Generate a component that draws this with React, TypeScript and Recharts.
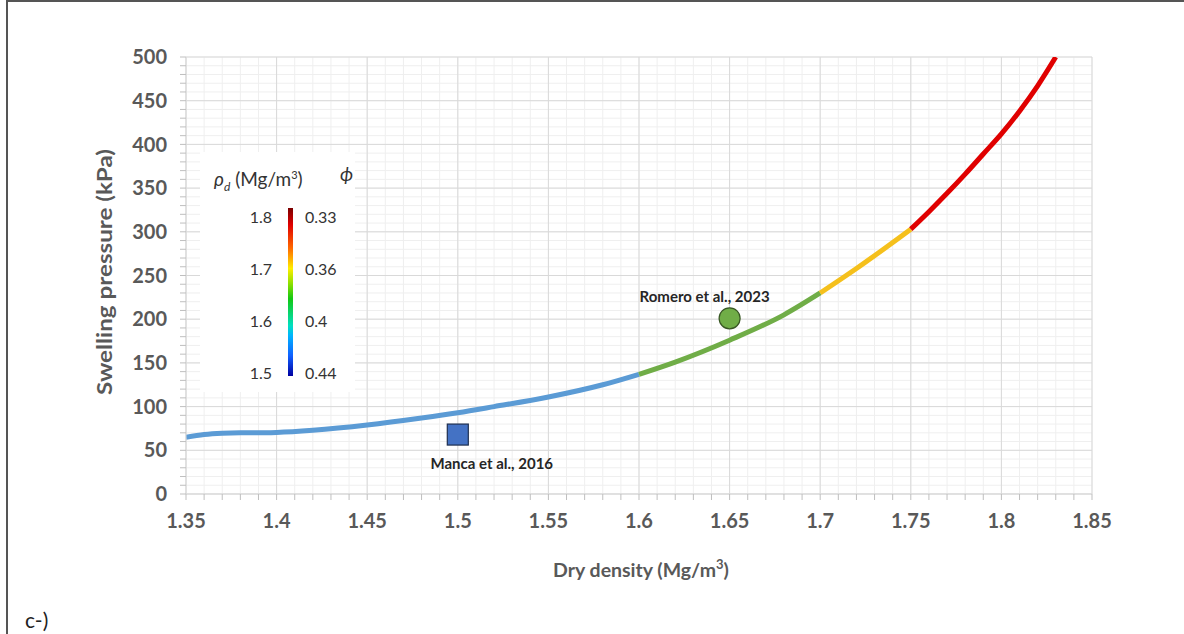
import {
  ComposedChart,
  Line,
  Scatter,
  XAxis,
  YAxis,
  CartesianGrid,
} from "recharts";

// curve segments, dry density (Mg/m3) vs swelling pressure (kPa)
const blueSeg = [
  { d: 1.35, p: 65 },
  { d: 1.36, p: 68 },
  { d: 1.37, p: 69.5 },
  { d: 1.38, p: 70 },
  { d: 1.39, p: 70 },
  { d: 1.4, p: 70.5 },
  { d: 1.42, p: 73 },
  { d: 1.45, p: 79 },
  { d: 1.48, p: 87 },
  { d: 1.5, p: 93 },
  { d: 1.52, p: 100 },
  { d: 1.55, p: 111 },
  { d: 1.58, p: 125 },
  { d: 1.6, p: 137 },
];
const greenSeg = [
  { d: 1.6, p: 137 },
  { d: 1.62, p: 151 },
  { d: 1.65, p: 176 },
  { d: 1.68, p: 205 },
  { d: 1.7, p: 230 },
];
const yellowSeg = [
  { d: 1.7, p: 230 },
  { d: 1.72, p: 258 },
  { d: 1.75, p: 303 },
];
const redSeg = [
  { d: 1.75, p: 303 },
  { d: 1.76, p: 323 },
  { d: 1.77, p: 344 },
  { d: 1.78, p: 366 },
  { d: 1.79, p: 389 },
  { d: 1.8, p: 412 },
  { d: 1.81, p: 438 },
  { d: 1.82, p: 467 },
  { d: 1.83, p: 500 },
];

const mancaPoint = [{ d: 1.5, p: 68, label: "Manca et al., 2016" }];
const romeroPoint = [{ d: 1.65, p: 201, label: "Romero et al., 2023" }];

const xMajor = [1.35, 1.4, 1.45, 1.5, 1.55, 1.6, 1.65, 1.7, 1.75, 1.8, 1.85];
const yMajor = [0, 50, 100, 150, 200, 250, 300, 350, 400, 450, 500];
const xMinor = Array.from({ length: 51 }, (_, i) => Math.round(135 + i) / 100);
const yMinor = Array.from({ length: 51 }, (_, i) => i * 10);

const densityLabels = ["1.8", "1.7", "1.6", "1.5"];
const porosityLabels = ["0.33", "0.36", "0.4", "0.44"];

const GREY = "#595959";
const FONT = "Lato, 'Open Sans', sans-serif";

const scaleFn = (axis: any) => {
  const s = axis?.scale;
  if (typeof s === "function") return s;
  if (s && typeof s.map === "function") return (v: number) => s.map(v);
  return null;
};

const xGen = (vals: number[]) => ({ xAxis }: any) => {
  const f = scaleFn(xAxis);
  return f ? vals.map((v) => f(v)) : [];
};
const yGen = (vals: number[]) => ({ yAxis }: any) => {
  const f = scaleFn(yAxis);
  return f ? vals.map((v) => f(v)) : [];
};

const isMajorX = (v: number) => Math.round(v * 100) % 5 === 0;

const SquareMark = (props: any) => {
  const { cx, cy, payload } = props;
  return (
    <g>
      <rect x={cx - 10.5} y={cy - 10.5} width={21} height={21} fill="#4472C4" stroke="#1F2F4F" strokeWidth={1.2} />
      <text x={cx + 34} y={cy + 34} textAnchor="middle" fontSize={15} fontWeight={700} fill="#262626" fontFamily={FONT}>
        {payload.label}
      </text>
    </g>
  );
};

const CircleMark = (props: any) => {
  const { cx, cy, payload } = props;
  return (
    <g>
      <circle cx={cx} cy={cy} r={10.5} fill="#70AD47" stroke="#385723" strokeWidth={1.2} />
      <text x={cx - 25} y={cy - 16} textAnchor="middle" fontSize={15} fontWeight={700} fill="#262626" fontFamily={FONT}>
        {payload.label}
      </text>
    </g>
  );
};

const tickStyle = { fill: GREY, fontSize: 20, fontWeight: 700, fontFamily: FONT };

export default function App() {
  return (
    <div style={{ position: "absolute", left: 0, top: 0, width: 1184, height: 634, background: "#fff", fontFamily: FONT }}>
      <div
        style={{
          position: "absolute",
          left: 6,
          top: 0,
          width: 1178,
          height: 634,
          borderLeft: "2px solid #555",
          borderTop: "2px solid #555",
          boxSizing: "border-box",
        }}
      />
      <ComposedChart width={1184} height={634} margin={{ top: 57, right: 92, left: 0, bottom: 80 }}>
        <CartesianGrid
          stroke="#efefef"
          strokeWidth={1}
          verticalCoordinatesGenerator={xGen(xMinor)}
          horizontalCoordinatesGenerator={yGen(yMinor)}
        />
        <CartesianGrid
          stroke="#d9d9d9"
          strokeWidth={1}
          verticalCoordinatesGenerator={xGen(xMajor)}
          horizontalCoordinatesGenerator={yGen(yMajor)}
        />
        <XAxis
          dataKey="d"
          type="number"
          domain={[1.35, 1.85]}
          allowDataOverflow
          ticks={xMinor}
          interval={0}
          tickFormatter={(v: number) => (isMajorX(v) ? String(v) : "")}
          tick={tickStyle}
          tickSize={6}
          tickMargin={14}
          height={60}
          axisLine={{ stroke: "#d9d9d9" }}
          tickLine={{ stroke: "#bfbfbf" }}
        />
        <YAxis
          dataKey="p"
          type="number"
          domain={[0, 500]}
          allowDataOverflow
          ticks={yMinor}
          interval={0}
          tickFormatter={(v: number) => (v % 50 === 0 ? String(v) : "")}
          tick={tickStyle}
          tickSize={6}
          tickMargin={13}
          width={186}
          axisLine={{ stroke: "#d9d9d9" }}
          tickLine={{ stroke: "#bfbfbf" }}
        />
        <Line data={blueSeg} dataKey="p" type="monotone" stroke="#5B9BD5" strokeWidth={5} dot={false} isAnimationActive={false} />
        <Line data={greenSeg} dataKey="p" type="monotone" stroke="#70AD47" strokeWidth={5} dot={false} isAnimationActive={false} />
        <Line data={yellowSeg} dataKey="p" type="monotone" stroke="#F5C01C" strokeWidth={5} dot={false} isAnimationActive={false} />
        <Line data={redSeg} dataKey="p" type="monotone" stroke="#E00000" strokeWidth={5} dot={false} isAnimationActive={false} />
        <Scatter data={mancaPoint} dataKey="p" shape={SquareMark} isAnimationActive={false} />
        <Scatter data={romeroPoint} dataKey="p" shape={CircleMark} isAnimationActive={false} />
      </ComposedChart>

      {/* axis titles and panel tag */}
      <svg width={1184} height={634} style={{ position: "absolute", left: 0, top: 0, pointerEvents: "none" }}>
        <text
          x={103}
          y={272}
          transform="rotate(-90 103 272)"
          textAnchor="middle"
          dominantBaseline="central"
          fill={GREY}
          fontWeight={700}
          fontSize={21}
          fontFamily={FONT}
          textLength={246}
          lengthAdjust="spacingAndGlyphs"
        >
          Swelling pressure (kPa)
        </text>
        <text x={641} y={577} textAnchor="middle" fill={GREY} fontWeight={700} fontSize={19.5} fontFamily={FONT}>
          Dry density (Mg/m
          <tspan fontSize={13} dy={-8}>
            3
          </tspan>
          <tspan dy={8}>)</tspan>
        </text>
        <text x={25} y={628} fontSize={21} fill="#222" fontFamily={FONT}>
          c-)
        </text>
      </svg>

      {/* colour legend */}
      <div style={{ position: "absolute", left: 200, top: 152, width: 155, height: 240, background: "#fff", color: "#333" }}>
        <div style={{ position: "absolute", left: 14, top: 15, fontSize: 19, whiteSpace: "nowrap" }}>
          <i>ρ</i>
          <sub style={{ fontSize: 12 }}>
            <i>d</i>
          </sub>{" "}
          (Mg/m<sup style={{ fontSize: 11 }}>3</sup>)
        </div>
        <div style={{ position: "absolute", left: 140, top: 10, fontSize: 19, fontStyle: "italic" }}>ϕ</div>
        <div
          style={{
            position: "absolute",
            left: 88,
            top: 56,
            width: 5,
            height: 168,
            background:
              "linear-gradient(to bottom, #7a0000 0%, #e00000 10%, #ff6a00 24%, #ffee00 36%, #8ee000 45%, #12c812 54%, #00e0c0 70%, #00b4ff 76%, #1060ff 88%, #0000a0 100%)",
          }}
        />
        {densityLabels.map((t, i) => (
          <div key={t} style={{ position: "absolute", right: 83, top: 65 + i * 52 - 10, fontSize: 16, lineHeight: "20px" }}>
            {t}
          </div>
        ))}
        {porosityLabels.map((t, i) => (
          <div key={t} style={{ position: "absolute", left: 105, top: 65 + i * 52 - 10, fontSize: 16, lineHeight: "20px" }}>
            {t}
          </div>
        ))}
      </div>
    </div>
  );
}
